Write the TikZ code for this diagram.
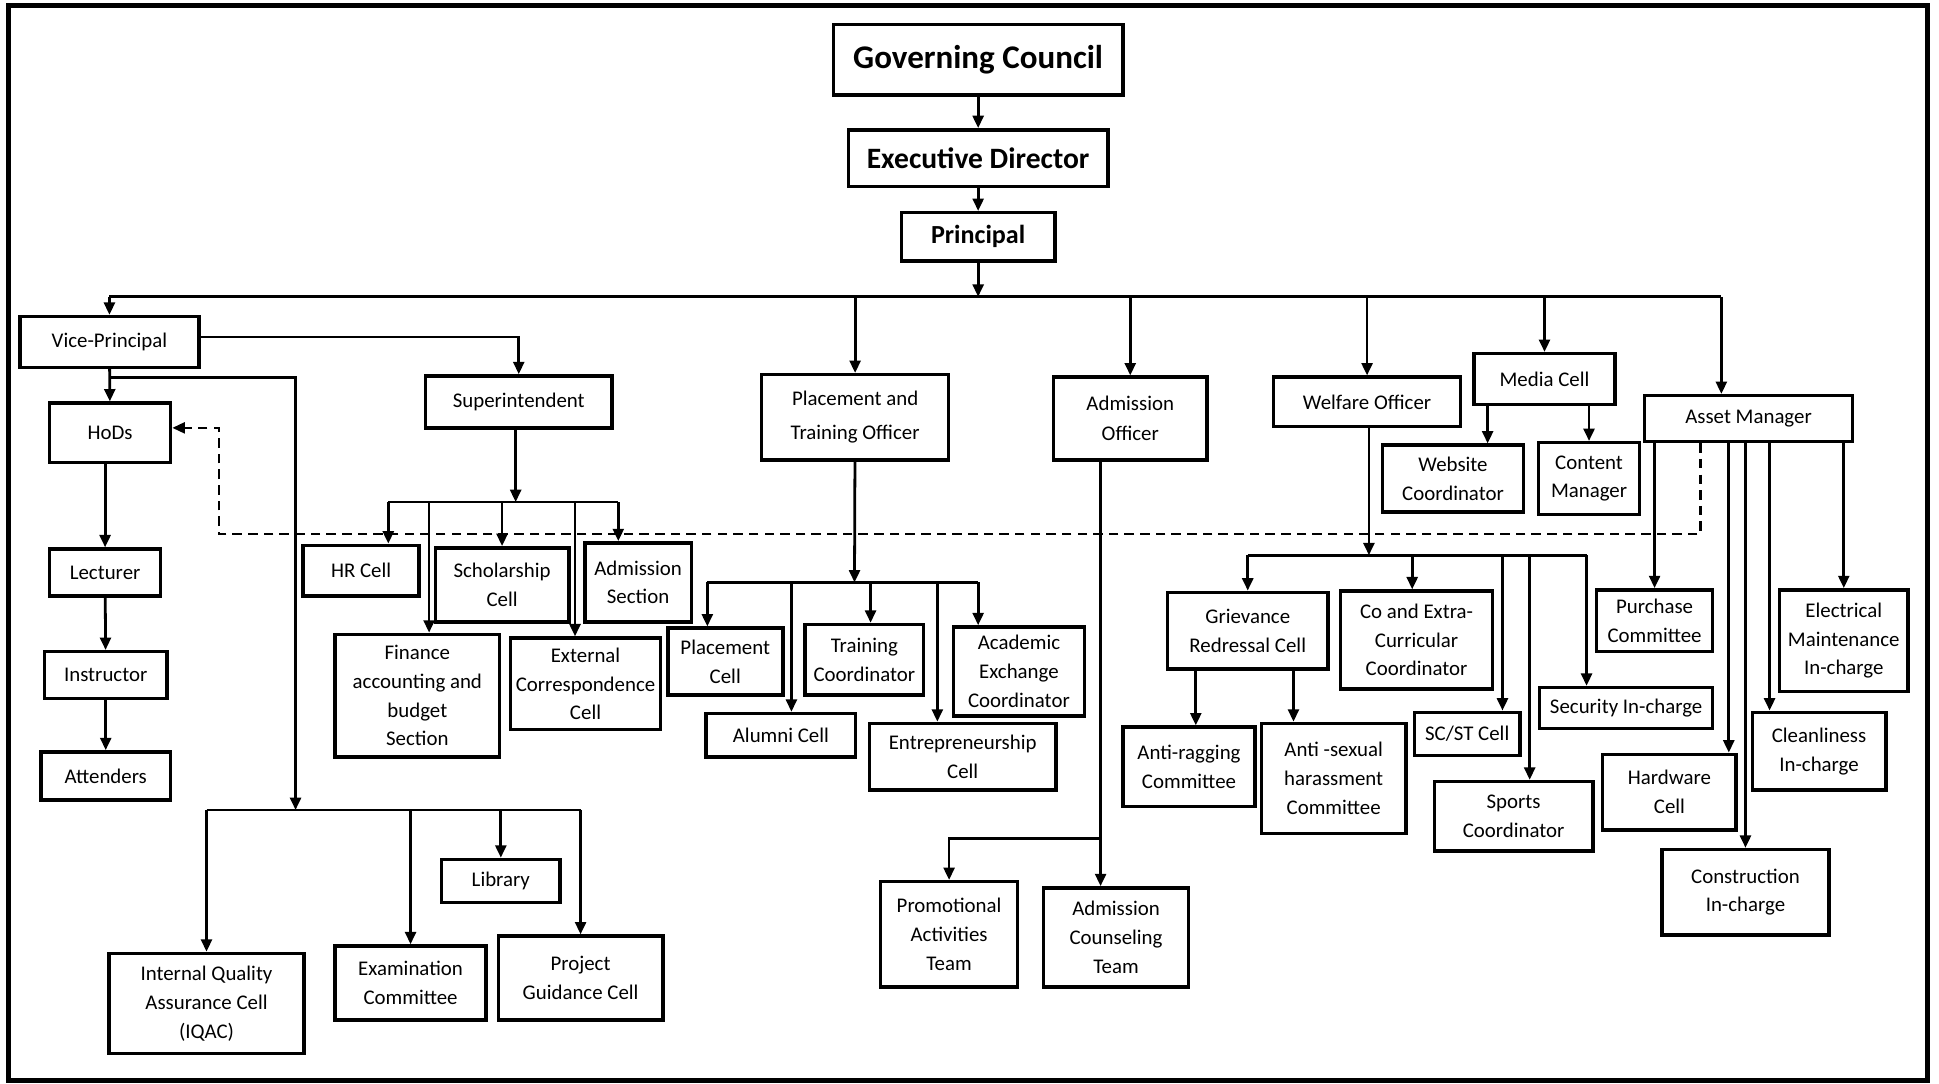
\documentclass[tikz,border=0pt]{standalone}
\usepackage{fontspec}
\setmainfont{Carlito}
\usetikzlibrary{arrows.meta,positioning,calc}

\begin{document}
\begin{tikzpicture}[x=0.025cm,y=-0.025cm,
  obox/.style={draw,line width=2pt,align=center,inner sep=1pt,
               font=\fontsize{12}{16.5}\selectfont},
  topbox/.style={obox,font=\bfseries\fontsize{19}{22}\selectfont},
  wh/.style 2 args={minimum width=#1*0.025cm,minimum height=#2*0.025cm},
  wire/.style={line width=1.6pt},
  arr/.style={wire,-{Triangle[length=2.5mm,width=2.2mm]}},
  dashlink/.style={line width=1.4pt,dash pattern=on 5.5pt off 3.5pt}]
  \useasboundingbox (0,0) rectangle (1568,876);
  \draw[line width=3pt] (7,4.5) rectangle (1559,874);

  % top of the chart
  \node[topbox,wh={234}{57}] (gc) at (791,48.5) {Governing Council};
  \node[topbox,wh={210}{46},font=\bfseries\fontsize{17}{20}\selectfont] (ed) at (791,128) {Executive Director};
  \node[topbox,wh={124}{39},font=\bfseries\fontsize{15}{18}\selectfont] (pr) at (791,191.5) {Principal};

  % vice-principal side
  \node[obox,wh={145}{41}] (vp) at (88.5,276.5) {Vice-Principal};
  \node[obox,wh={98}{48}] (hods) at (89,350) {HoDs};
  \node[obox,wh={90}{38}] (lect) at (85,463) {Lecturer};
  \node[obox,wh={99}{38}] (instr) at (85.5,546) {Instructor};
  \node[obox,wh={105}{39}] (att) at (85.5,627.5) {Attenders};
  \node[obox,wh={151}{42}] (sup) at (419.5,325) {Superintendent};
  \node[obox,wh={94}{41}] (hr) at (292,461.5) {HR Cell};
  \node[obox,wh={108}{60}] (sch) at (406,473) {Scholarship\\Cell};
  \node[obox,wh={86}{64}] (adms) at (516,471) {Admission\\Section};
  \node[obox,wh={133}{99}] (fin) at (337.5,562.5) {Finance\\accounting and\\budget\\Section};
  \node[obox,wh={121}{74}] (ext) at (473.5,553) {External\\Correspondence\\Cell};
  \node[obox,wh={96}{35}] (lib) at (405,712.5) {Library};
  \node[obox,wh={158}{81}] (iqac) at (167,811.5) {Internal Quality\\Assurance Cell\\(IQAC)};
  \node[obox,wh={122}{60}] (exam) at (332,795) {Examination\\Committee};
  \node[obox,wh={133}{68}] (prj) at (469.5,791) {Project\\Guidance Cell};

  % placement and admission
  \node[obox,wh={151}{69}] (pto) at (691.5,337.5) {Placement and\\[3pt]Training Officer};
  \node[obox,wh={124}{67}] (ao) at (914,338.5) {Admission\\[1pt]Officer};
  \node[obox,wh={93}{54}] (plc) at (586.5,535) {Placement\\Cell};
  \node[obox,wh={121}{35}] (alu) at (631.5,594.5) {Alumni Cell};
  \node[obox,wh={96}{57}] (trc) at (699,533.5) {Training\\Coordinator};
  \node[obox,wh={151}{54}] (ent) at (778.5,612) {Entrepreneurship\\Cell};
  \node[obox,wh={106}{72}] (aec) at (824,543) {Academic\\Exchange\\Coordinator};
  \node[obox,wh={111}{85}] (pat) at (767.5,755.5) {Promotional\\Activities\\Team};
  \node[obox,wh={117}{80}] (act) at (902.5,758) {Admission\\Counseling\\Team};

  % welfare, media, assets
  \node[obox,wh={151}{40}] (wo) at (1105.5,325) {Welfare Officer};
  \node[obox,wh={114}{41}] (mc) at (1249,306.5) {Media Cell};
  \node[obox,wh={114}{54}] (web) at (1175,387) {Website\\Coordinator};
  \node[obox,wh={82}{58}] (cm) at (1285,387) {Content\\Manager};
  \node[obox,wh={168}{37}] (am) at (1414,338.5) {Asset Manager};
  \node[obox,wh={130}{62}] (grc) at (1009,510) {Grievance\\Redressal Cell};
  \node[obox,wh={107}{64}] (arc) at (961.5,620) {Anti-ragging\\Committee};
  \node[obox,wh={117}{89}] (ash) at (1078.5,629.5) {Anti -sexual\\harassment\\Committee};
  \node[obox,wh={123}{79}] (cec) at (1145.5,517.5) {Co and Extra-\\Curricular\\Coordinator};
  \node[obox,wh={85}{35}] (scst) at (1186.5,593.5) {SC/ST Cell};
  \node[obox,wh={128}{56}] (spc) at (1224,660) {Sports\\Coordinator};
  \node[obox,wh={140}{33}] (sec) at (1315,572.5) {Security In-charge};
  \node[obox,wh={94}{50}] (pur) at (1338,502) {Purchase\\Committee};
  \node[obox,wh={108}{61}] (hw) at (1350,640.5) {Hardware\\Cell};
  \node[obox,wh={135}{69}] (con) at (1411.5,721.5) {Construction\\In-charge};
  \node[obox,wh={108}{63}] (cln) at (1471,607.5) {Cleanliness\\In-charge};
  \node[obox,wh={104}{82}] (emi) at (1491,518) {Electrical\\Maintenance\\In-charge};

  % junctions and entry points
  \coordinate (bus) at (791,240);
  \coordinate (amin) at ($(am.north)+(-22,0)$);
  \coordinate (vpjoin) at ($(vp.south)+(0,7)$);
  \coordinate (lowbus) at (239,655);
  \coordinate (supbus) at (417,406);
  \coordinate (hrin) at ($(hr.north)+(22,0)$);
  \coordinate (finin) at ($(fin.north)+(9.5,0)$);
  \coordinate (extin) at ($(ext.north)+(-8.5,0)$);
  \coordinate (admin) at ($(adms.north)+(-16,0)$);
  \coordinate (ptobus) at (691,471);
  \coordinate (plcin) at ($(plc.north)+(-14.5,0)$);
  \coordinate (aluin) at ($(alu.north)+(8.5,0)$);
  \coordinate (trcin) at ($(trc.north)+(5,0)$);
  \coordinate (entin) at ($(ent.north)+(-20.5,0)$);
  \coordinate (aecin) at ($(aec.north)+(-33,0)$);
  \coordinate (aoout) at ($(ao.south)+(-24,0)$);
  \coordinate (actin) at ($(act.north)+(-12.5,0)$);
  \coordinate (aobr) at (890,678);
  \coordinate (wobus) at (1107,449);
  \coordinate (cecin) at ($(cec.north)+(-3.5,0)$);
  \coordinate (scstin) at ($(scst.north)+(28.5,0)$);
  \coordinate (spcin) at ($(spc.north)+(13,0)$);
  \coordinate (secin) at ($(sec.north)+(-32,0)$);
  \coordinate (arcin) at ($(arc.north)+(5.5,0)$);
  \coordinate (ashin) at ($(ash.north)+(-32.5,0)$);
  \coordinate (webin) at ($(web.north)+(28,0)$);
  \coordinate (hwin) at ($(hw.north)+(48,0)$);
  \coordinate (clnin) at ($(cln.north)+(-40,0)$);

  % solid lines
  \draw[arr] (gc) -- (ed);
  \draw[arr] (ed) -- (pr);
  \draw[arr] (pr) -- (bus);
  \draw[wire] (bus -| vp) -- (bus -| amin);
  \draw[arr] (bus -| vp) -- (vp);
  \draw[arr] (bus -| pto) -- (pto);
  \draw[arr] (bus -| ao) -- (ao);
  \draw[arr] (bus -| wo) -- (wo);
  \draw[arr] (bus -| mc) -- (mc);
  \draw[arr] (bus -| amin) -- (amin);

  \draw[arr] ($(vp.east)+(0,-4)$) -| (sup);
  \draw[arr] (vp) -- (hods);
  \draw[arr] (hods.south -| lect) -- (lect);
  \draw[arr] (lect) -- (instr);
  \draw[arr] (instr) -- (att);
  \draw[arr] (vpjoin) -| (lowbus);
  \draw[wire] (lowbus -| iqac) -- (lowbus -| prj);
  \draw[arr] (lowbus -| iqac) -- (iqac);
  \draw[arr] (lowbus -| exam) -- (exam);
  \draw[arr] (lowbus -| lib) -- (lib);
  \draw[arr] (lowbus -| prj) -- (prj);

  \draw[arr] (sup.south -| supbus) -- (supbus);
  \draw[wire] (supbus -| hrin) -- (supbus -| admin);
  \draw[arr] (supbus -| hrin) -- (hrin);
  \draw[arr] (supbus -| finin) -- (finin);
  \draw[arr] (supbus -| sch) -- (sch);
  \draw[arr] (supbus -| extin) -- (extin);
  \draw[arr] (supbus -| admin) -- (admin);

  \draw[arr] (pto) -- (ptobus);
  \draw[wire] (ptobus -| plcin) -- (ptobus -| aecin);
  \draw[arr] (ptobus -| plcin) -- (plcin);
  \draw[arr] (ptobus -| aluin) -- (aluin);
  \draw[arr] (ptobus -| trcin) -- (trcin);
  \draw[arr] (ptobus -| entin) -- (entin);
  \draw[arr] (ptobus -| aecin) -- (aecin);

  \draw[arr] (aoout) -- (actin);
  \draw[arr] (aobr) -| (pat);

  \draw[arr] (wo.south -| wobus) -- (wobus);
  \draw[wire] (wobus -| grc) -- (wobus -| secin);
  \draw[arr] (wobus -| grc) -- (grc);
  \draw[arr] (wobus -| cecin) -- (cecin);
  \draw[arr] (wobus -| scstin) -- (scstin);
  \draw[arr] (wobus -| spcin) -- (spcin);
  \draw[arr] (wobus -| secin) -- (secin);
  \draw[arr] (grc.south -| arcin) -- (arcin);
  \draw[arr] (grc.south -| ashin) -- (ashin);

  \draw[arr] (mc.south -| webin) -- (webin);
  \draw[arr] (mc.south -| cm) -- (cm);

  \draw[arr] (am.south -| pur) -- (pur);
  \draw[arr] (am.south -| hwin) -- (hwin);
  \draw[arr] (am.south -| con) -- (con);
  \draw[arr] (am.south -| clnin) -- (clnin);
  \draw[arr] (am.south -| emi) -- (emi);

  % dashed link back to the HoDs
  \coordinate (dl) at (177,432);
  \draw[dashlink,-{Triangle[length=2.5mm,width=2.2mm]}]
    ($(am.south)+(-39,0)$) |- (dl) |- ($(hods.east)+(0,-4)$);
  \draw[dashlink] ($(pto.south)+(-46.5,0)$) -- ($(pto.south)+(-46.5,0)$ |- dl);
  \draw[dashlink] ($(ao.south)+(-33,0)$) -- ($(ao.south)+(-33,0)$ |- dl);
  \draw[dashlink] ($(wo.south)+(-8.5,0)$) -- ($(wo.south)+(-8.5,0)$ |- dl);
\end{tikzpicture}
\end{document}
